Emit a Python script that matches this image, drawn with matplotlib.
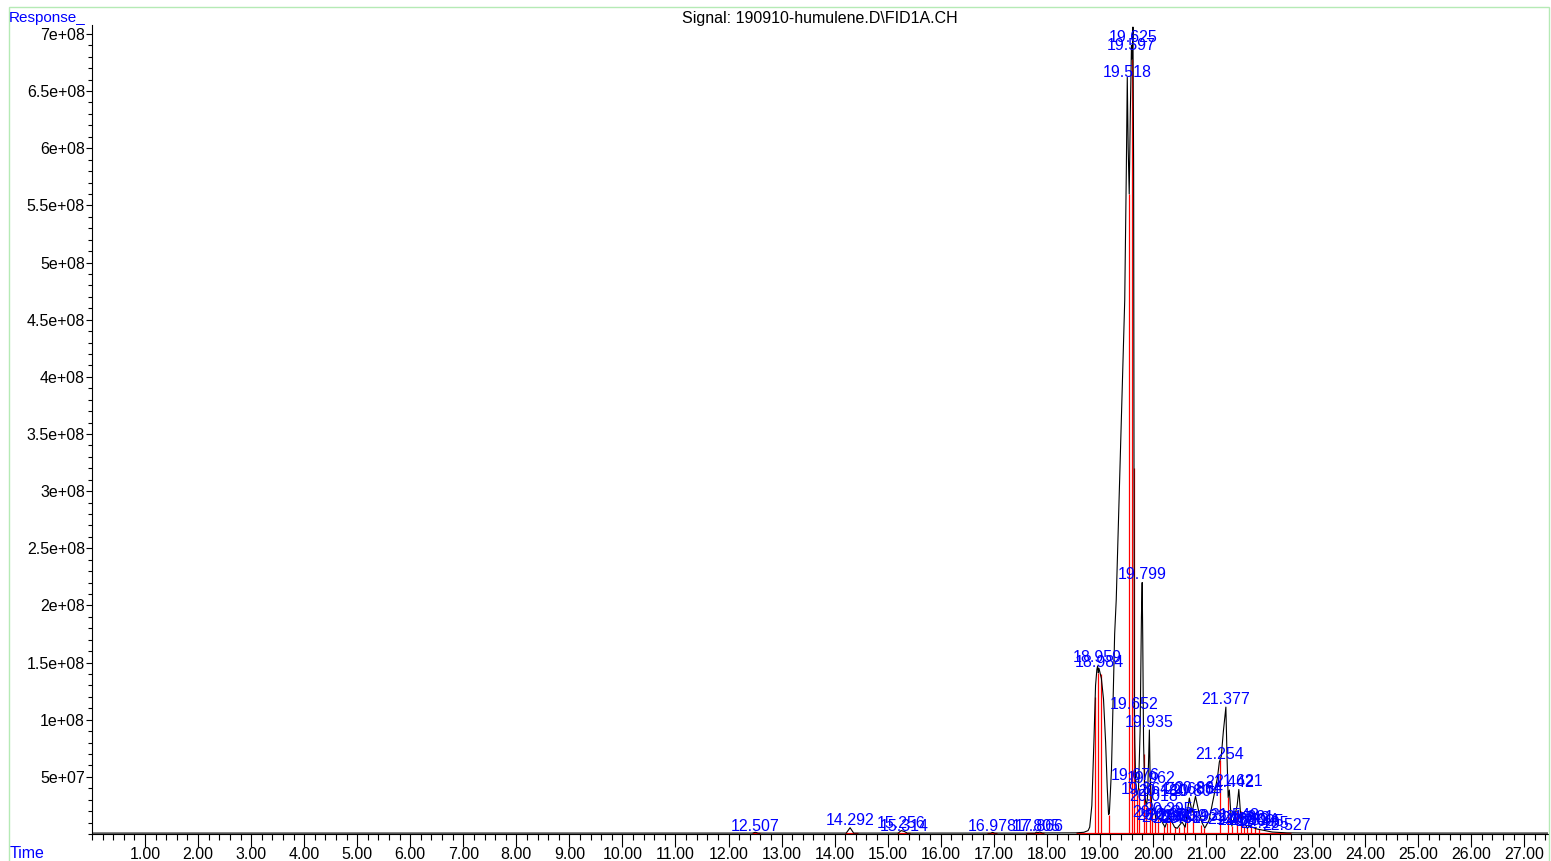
import matplotlib
matplotlib.use("Agg")
import matplotlib.pyplot as plt
from matplotlib.ticker import MultipleLocator, FuncFormatter
from matplotlib.patches import Rectangle

plt.rcParams['font.family'] = ['Liberation Sans', 'DejaVu Sans']

# FID trace (time in min, response)
trace_t = [0.0, 12.45, 12.507, 12.56, 14.22, 14.292, 14.36, 15.20, 15.256, 15.314, 15.37,
           16.94, 16.978, 17.02, 17.78, 17.805, 17.835, 17.866, 17.92, 18.55, 18.70, 18.78,
           18.81, 18.85, 18.89, 18.92, 18.945, 18.959, 18.972, 18.984, 19.00, 19.03, 19.07,
           19.11, 19.14, 19.165, 19.18, 19.22, 19.28, 19.31, 19.39, 19.47, 19.50, 19.518,
           19.535, 19.555, 19.575, 19.597, 19.61, 19.625, 19.638, 19.645, 19.652, 19.66,
           19.676, 19.70, 19.73, 19.76, 19.785, 19.799, 19.81, 19.825, 19.849, 19.875, 19.90,
           19.92, 19.935, 19.947, 19.962, 19.985, 20.018, 20.063, 20.135, 20.18, 20.23,
           20.295, 20.36, 20.41, 20.46, 20.55, 20.61, 20.688, 20.74, 20.804, 20.864, 20.93,
           20.98, 21.06, 21.12, 21.18, 21.22, 21.254, 21.29, 21.33, 21.377, 21.40, 21.42,
           21.442, 21.465, 21.49, 21.548, 21.59, 21.621, 21.65, 21.68, 21.742, 21.78, 21.821,
           21.87, 21.96, 22.06, 22.25, 22.53, 23.0, 27.45]
trace_v = [0.8e6, 0.8e6, 1.5e6, 0.8e6, 0.8e6, 5.5e6, 0.8e6, 0.8e6, 3.0e6, 2.2e6, 0.8e6,
           0.8e6, 1.4e6, 0.8e6, 0.8e6, 1.6e6, 1.1e6, 1.7e6, 0.9e6, 1.0e6, 1.5e6, 3e6,
           6e6, 2.5e7, 8.2e7, 1.30e8, 1.44e8, 1.47e8, 1.41e8, 1.45e8, 1.42e8, 1.36e8, 1.18e8,
           8.0e7, 4.1e7, 1.7e7, 1.8e7, 5.6e7, 1.75e8, 2.05e8, 3.36e8, 4.67e8, 5.8e8, 6.62e8,
           6.0e8, 5.6e8, 6.3e8, 6.9e8, 6.78e8, 7.06e8, 5.8e8, 3.2e8, 1.08e8, 8.0e7,
           4.6e7, 3.4e7, 4.0e7, 9.0e7, 1.9e8, 2.2e8, 1.7e8, 8.0e7, 3.4e7, 2.4e7, 3.2e7,
           6.5e7, 9.1e7, 5.5e7, 3.8e7, 2.1e7, 2.3e7, 1.3e7, 1.4e7, 1.0e7, 6e6,
           1.5e7, 1.05e7, 6e6, 5e6, 1.05e7, 6e6, 3.15e7, 1.9e7, 3.3e7, 2.0e7, 9.6e6,
           5.2e6, 1.2e7, 2.6e7, 4.0e7, 5.0e7, 6.3e7, 6.8e7, 9.0e7, 1.11e8, 6.5e7, 3.2e7,
           3.85e7, 2.2e7, 7e6, 1.66e7, 2.5e7, 3.9e7, 2.0e7, 7e6, 8.7e6, 5e6, 7e6,
           6e6, 4.4e6, 3.5e6, 1.7e6, 1.0e6, 0.8e6, 0.8e6]

# peak labels and the height they sit at
peak_labels = ["12.507", "14.292", "15.256", "15.314", "16.978", "17.805", "17.866",
               "18.959", "18.984", "19.518", "19.597", "19.625", "19.652", "19.799",
               "19.935", "19.676", "19.962", "19.864", "20.018", "20.180", "20.295",
               "20.688", "20.804", "20.864", "20.063", "20.145", "20.236", "20.360",
               "20.458", "20.559", "20.612", "20.932", "21.254", "21.377", "21.442",
               "21.621", "21.492", "21.548", "21.680", "21.742", "21.821", "21.894",
               "22.005", "22.105", "22.527"]
label_h = [0.0, 5.2e6, 2.6e6, 0.0, 0.0, 0.0, 0.0,
           1.48e8, 1.43e8, 6.6e8, 6.83e8, 6.90e8, 1.07e8, 2.2e8,
           9.1e7, 4.46e7, 4.2e7, 3.2e7, 2.6e7, 3.06e7, 1.5e7,
           3.2e7, 3.1e7, 3.3e7, 1.2e7, 1.0e7, 8e6, 1.0e7,
           7e6, 9e6, 7e6, 9e6, 6.3e7, 1.11e8, 3.85e7,
           3.9e7, 6e6, 1.0e7, 5e6, 7e6, 8e6, 5e6,
           4e6, 3e6, 1e6]

# red drop lines (integration events)
drop_t = [18.91, 18.972, 19.02, 19.165, 19.555, 19.61, 19.645, 19.70, 19.74, 19.83,
          19.875, 19.95, 19.985, 20.04, 20.10, 20.21, 20.27, 20.33, 20.41, 20.50, 20.58,
          20.65, 20.76, 20.90, 20.96, 21.27, 21.42, 21.49, 21.58, 21.66, 21.72, 21.77,
          21.85, 21.92, 22.0]
drop_top = [1.2e8, 1.41e8, 1.40e8, 1.7e7, 5.6e8, 6.78e8, 3.2e8, 3.4e7, 4.0e7, 7.0e7,
            2.4e7, 5.0e7, 2.1e7, 1.7e7, 1.3e7, 7e6, 1.0e7, 1.2e7, 6e6, 6e6, 8e6,
            1.2e7, 2.0e7, 8e6, 5.5e6, 6.5e7, 3.2e7, 7e6, 2.0e7, 2.0e7, 7e6, 6e6,
            6e6, 5e6, 4e6]

# red baseline segments
base_start = [12.45, 14.20, 15.18, 16.88, 17.60, 18.55]
base_end = [12.60, 14.45, 15.42, 17.06, 17.95, 22.60]

fig = plt.figure(figsize=(15.51, 8.61), dpi=100)
ax = fig.add_axes([92 / 1551, 27 / 861, (1548 - 92) / 1551, (834 - 25) / 861])

ax.hlines([0.9e6] * len(base_start), base_start, base_end, color='red', lw=0.9)
ax.vlines(drop_t, 0, drop_top, color='red', lw=0.9)
ax.plot(trace_t, trace_v, color='black', lw=0.8)

for lbl, h in zip(peak_labels, label_h):
    ax.annotate(lbl, (float(lbl), h), xytext=(0, 2.2), textcoords='offset points',
                ha='center', va='baseline', color='blue', fontsize=11.5)

ax.set_xlim(0, 27.45)
ax.set_ylim(0, 7.078e8)
ax.set_xticks(range(1, 28))
ax.xaxis.set_major_formatter(FuncFormatter(lambda v, p: f"{v:.2f}"))
ax.xaxis.set_minor_locator(MultipleLocator(0.2))
ax.set_yticks([5e7 * k for k in range(1, 15)])
ax.yaxis.set_major_formatter(FuncFormatter(lambda v, p: f"{v:.2g}"))
ax.yaxis.set_minor_locator(MultipleLocator(1e7))
ax.tick_params(axis='x', which='major', length=9, width=0.8, pad=0.5, labelsize=11.5)
ax.tick_params(axis='x', which='minor', length=4.5, width=0.8)
ax.tick_params(axis='y', which='major', length=4, width=0.8, pad=1, labelsize=11.5)
ax.tick_params(axis='y', which='minor', length=3, width=0.8)
ax.spines['top'].set_visible(False)
ax.spines['right'].set_visible(False)
ax.spines['left'].set_linewidth(0.8)
ax.spines['bottom'].set_linewidth(0.8)

fig.text(820 / 1551, 1 - 18 / 861, "Signal: 190910-humulene.D\\FID1A.CH",
         ha='center', va='center', fontsize=11.5)
fig.text(9 / 1551, 1 - 18 / 861, "Response_", ha='left', va='center', color='blue', fontsize=11)
fig.text(10 / 1551, 1 - 853 / 861, "Time", ha='left', va='center', color='blue', fontsize=11.5)

fig.patches.append(Rectangle((9 / 1551, -0.02), (1549 - 9) / 1551, 1.02 - 7 / 861,
                             transform=fig.transFigure, fill=False, edgecolor='#b5eab5', lw=1))

fig.savefig("out.png", dpi=100)
